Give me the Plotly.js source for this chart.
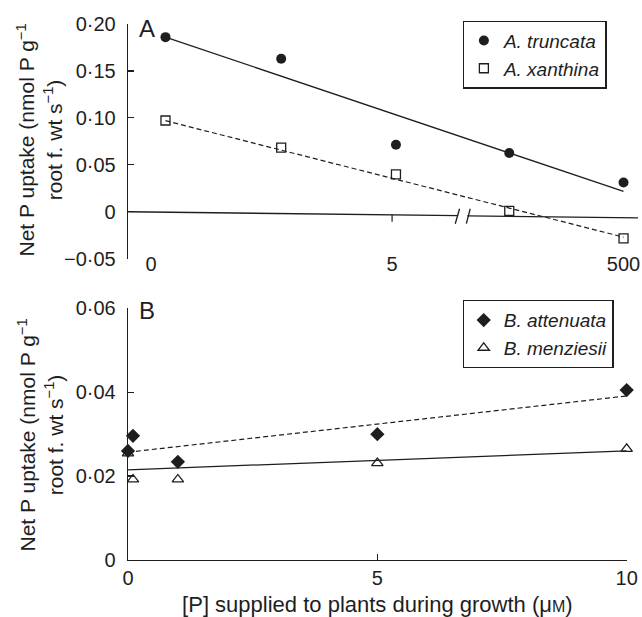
<!DOCTYPE html>
<html>
<head>
<meta charset="utf-8">
<script src="https://cdn.plot.ly/plotly-3.0.1.min.js"></script>
<style>html,body{margin:0;padding:0;background:#fff;}#chart{width:642px;height:617px;}</style>
</head>
<body>
<div id="chart"></div>
<script>
// ---- Panel A (x in plotted positions of a broken axis) ----
const xA = [0.3, 2.7, 5.08, 7.43, 9.8];
const truncata = [0.186, 0.163, 0.0714, 0.0626, 0.0311];
const xanthina = [0.0972, 0.0683, 0.0399, 0.001, -0.0283];
const fitA_x = [0.3, 9.8];
const fitTruncata = [0.186, 0.0216];
const fitXanthina = [0.097, -0.027];
const tickValsAx = [0, 5, 9.8];
const tickTextAx = ["0", "5", "500"];
const tickValsAy = [-0.05, 0, 0.05, 0.10, 0.15, 0.20];
const tickTextAy = ["\u22120\u00b705", "0", "0\u00b705", "0\u00b710", "0\u00b715", "0\u00b720"];
// zero line of panel A (with break)
const zeroLineX = [-0.477, 6.37, 6.56, 10.1];
const zeroLineY = [0, -0.0041, -0.0043, -0.0064];

// ---- Panel B ----
const xB = [0, 0.1, 1, 5, 10];
const attenuata = [0.026, 0.0296, 0.0234, 0.0300, 0.0405];
const menziesii = [0.0254, 0.0192, 0.0192, 0.0231, 0.0265];
const fitB_x = [0, 10];
const fitAttenuata = [0.0257, 0.0391];
const fitMenziesii = [0.0215, 0.026];
const tickValsBx = [0, 5, 10];
const tickTextBx = ["0", "5", "10"];
const tickValsBy = [0, 0.02, 0.04, 0.06];
const tickTextBy = ["0", "0\u00b702", "0\u00b704", "0\u00b706"];

const FONT = "Liberation Sans, Arial, Helvetica, sans-serif";
const INK = "#1e1e1e";

const traces = [
  {x: xA, y: truncata, mode: "markers", name: "<i>A. truncata</i>", xaxis: "x", yaxis: "y",
   marker: {symbol: "circle", size: 10, color: INK}, cliponaxis: false, legend: "legend"},
  {x: xA, y: xanthina, mode: "markers", name: "<i>A. xanthina</i>", xaxis: "x", yaxis: "y",
   marker: {symbol: "square-open", size: 9, color: INK, line: {width: 1.3, color: INK}}, cliponaxis: false, legend: "legend"},
  {x: fitA_x, y: fitTruncata, mode: "lines", showlegend: false, xaxis: "x", yaxis: "y",
   line: {color: INK, width: 1.3}},
  {x: fitA_x, y: fitXanthina, mode: "lines", showlegend: false, xaxis: "x", yaxis: "y",
   line: {color: INK, width: 1.2, dash: "5px,3px"}},
  {x: xB, y: attenuata, mode: "markers", name: "<i>B. attenuata</i>", xaxis: "x2", yaxis: "y2",
   marker: {symbol: "diamond", size: 11, color: INK}, cliponaxis: false, legend: "legend2"},
  {x: xB, y: menziesii, mode: "markers", name: "<i>B. menziesii</i>", xaxis: "x2", yaxis: "y2",
   marker: {symbol: "triangle-up-open", size: 10, color: INK, line: {width: 1.3, color: INK}}, cliponaxis: false, legend: "legend2"},
  {x: fitB_x, y: fitMenziesii, mode: "lines", showlegend: false, xaxis: "x2", yaxis: "y2",
   line: {color: INK, width: 1.3}},
  {x: fitB_x, y: fitAttenuata, mode: "lines", showlegend: false, xaxis: "x2", yaxis: "y2",
   line: {color: INK, width: 1.2, dash: "5px,3px"}}
];

const ytitle = "Net P uptake (nmol P g<sup>\u22121</sup><br>root f. wt s<sup>\u22121</sup>)";

const shapes = [
  {type: "line", xref: "x", yref: "y", x0: zeroLineX[0], y0: zeroLineY[0], x1: zeroLineX[1], y1: zeroLineY[1], line: {color: INK, width: 1.3}},
  {type: "line", xref: "x", yref: "y", x0: zeroLineX[2], y0: zeroLineY[2], x1: zeroLineX[3], y1: zeroLineY[3], line: {color: INK, width: 1.3}},
  // break marks
  {type: "line", xref: "x", yref: "y", x0: 6.31, y0: -0.0127, x1: 6.40, y1: 0.0032, line: {color: INK, width: 1.3}},
  {type: "line", xref: "x", yref: "y", x0: 6.54, y0: -0.0127, x1: 6.62, y1: 0.0032, line: {color: INK, width: 1.3}},
  // tick at 5 on the zero line
  {type: "line", xref: "x", yref: "y", x0: 5, y0: -0.0033, x1: 5, y1: -0.0107, line: {color: INK, width: 1.2}}
];

const layout = {
  width: 642, height: 617,
  margin: {l: 128, r: 4, t: 24, b: 57},
  paper_bgcolor: "#fff", plot_bgcolor: "#fff",
  font: {family: FONT, color: INK, size: 20},
  showlegend: true,
  xaxis: {domain: [0, 1], range: [-0.477, 10.1], anchor: "free", position: 0.5784,
    showline: false, showgrid: false, zeroline: false, ticks: "",
    tickmode: "array", tickvals: tickValsAx, ticktext: tickTextAx,
    tickfont: {size: 20, family: FONT, color: INK}},
  yaxis: {domain: [0.5621, 1], range: [-0.05, 0.20], anchor: "x",
    showline: true, linecolor: INK, linewidth: 1.3, showgrid: false, zeroline: false,
    ticks: "inside", ticklen: 6, tickwidth: 1.2, tickcolor: INK,
    tickmode: "array", tickvals: tickValsAy, ticktext: tickTextAy, ticklabelstandoff: 7,
    tickfont: {size: 20, family: FONT, color: INK}},
  xaxis2: {domain: [0, 0.9778], range: [0, 10], anchor: "y2",
    showline: true, linecolor: INK, linewidth: 1.3, showgrid: false, zeroline: false,
    ticks: "inside", ticklen: 6, tickwidth: 1.2, tickcolor: INK,
    tickmode: "array", tickvals: tickValsBx, ticktext: tickTextBx, ticklabelstandoff: 0,
    tickfont: {size: 20, family: FONT, color: INK},
    title: {text: "[P] supplied to plants during growth (\u03bc<span style=\"font-size:16px\">M</span>)",
            font: {size: 22, family: FONT, color: INK}, standoff: 8}},
  yaxis2: {domain: [0, 0.4696], range: [0, 0.06], anchor: "x2",
    showline: true, linecolor: INK, linewidth: 1.3, showgrid: false, zeroline: false,
    ticks: "inside", ticklen: 6, tickwidth: 1.2, tickcolor: INK,
    tickmode: "array", tickvals: tickValsBy, ticktext: tickTextBy, ticklabelstandoff: 7,
    tickfont: {size: 20, family: FONT, color: INK}},
  legend: {x: 0.9386, xanchor: "right", y: 1.0065, yanchor: "top",
    bgcolor: "#fff", bordercolor: INK, borderwidth: 1.2,
    font: {size: 19, family: FONT, color: INK}, tracegroupgap: 0, itemwidth: 30},
  legend2: {x: 0.952, xanchor: "right", y: 0.4851, yanchor: "top",
    bgcolor: "#fff", bordercolor: INK, borderwidth: 1.2,
    font: {size: 19, family: FONT, color: INK}, tracegroupgap: 0, itemwidth: 30},
  annotations: [
    {text: "A", xref: "paper", yref: "paper", x: 0.037, y: 0.9925, xanchor: "center", yanchor: "middle",
     showarrow: false, font: {size: 24, family: FONT, color: INK}},
    {text: "B", xref: "paper", yref: "paper", x: 0.037, y: 0.4664, xanchor: "center", yanchor: "middle",
     showarrow: false, font: {size: 24, family: FONT, color: INK}},
    {text: ytitle, xref: "paper", yref: "paper", x: -0.1735, y: 0.7836, xanchor: "center", yanchor: "middle",
     textangle: -90, showarrow: false, font: {size: 21, family: FONT, color: INK}},
    {text: ytitle, xref: "paper", yref: "paper", x: -0.1735, y: 0.2332, xanchor: "center", yanchor: "middle",
     textangle: -90, showarrow: false, font: {size: 21, family: FONT, color: INK}}
  ],
  shapes: shapes
};

Plotly.newPlot("chart", traces, layout, {staticPlot: true, displayModeBar: false});
</script>
</body>
</html>
